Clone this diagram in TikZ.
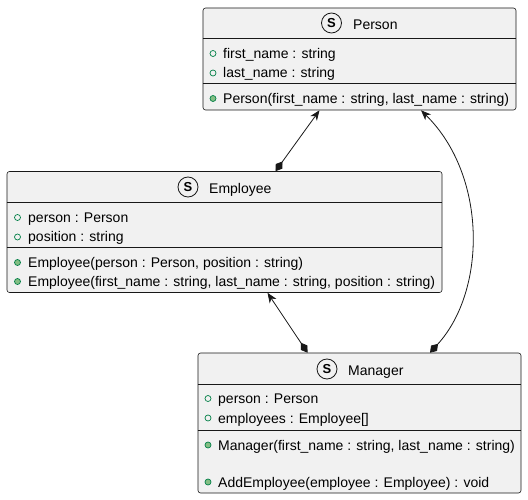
\documentclass[tikz,border=0pt]{standalone}
\usepackage{fontspec}
\setmainfont{Liberation Sans}
\usetikzlibrary{arrows.meta}
\definecolor{boxfill}{HTML}{F1F1F1}
\definecolor{boxline}{HTML}{181818}
\definecolor{visgreen}{HTML}{038048}
\definecolor{methgreen}{HTML}{84BE84}
\newcommand{\umlarrowtip}{Stealth[length=10pt,width=8pt,inset=3pt]}
\newcommand{\umlcomposetip}{Diamond[length=12pt,width=8pt]}
\tikzstyle{umlbox}=[draw=boxline,fill=boxfill,rounded corners=2.5pt,line width=0.6pt,inner sep=0pt]
\tikzstyle{sepline}=[draw=boxline,line width=0.6pt]
\tikzstyle{member}=[anchor=base west,inner sep=0pt,font=\fontsize{14pt}{16pt}\selectfont]
\tikzstyle{title}=[member]
\tikzstyle{spot}=[circle,draw=boxline,line width=0.8pt,minimum size=20pt,inner sep=0pt,font=\fontsize{13pt}{15pt}\selectfont\bfseries]
\tikzstyle{attr}=[circle,draw=visgreen,fill=boxfill,line width=0.7pt,minimum size=6pt,inner sep=0pt]
\tikzstyle{meth}=[circle,draw=visgreen,fill=methgreen,line width=0.7pt,minimum size=6pt,inner sep=0pt]
\tikzstyle{compose}=[\umlcomposetip-\umlarrowtip,draw=boxline,line width=0.8pt]

\begin{document}
\begin{tikzpicture}[x=1pt,y=-1pt]

  % Page size
  \useasboundingbox (0,0) rectangle (528,500);

  % Person
  \node[umlbox,minimum width=313pt,minimum height=102pt] (person) at (359.5,59) {};
  \draw[sepline] ([yshift=-31pt]person.north west) -- ([yshift=-31pt]person.north east);
  \draw[sepline] ([yshift=-76pt]person.north west) -- ([yshift=-76pt]person.north east);
  \node[spot] (personS) at (331.5,23) {S};
  \node[title] (personT) at (353,29.5) {Person};
  \node[attr] (personA1) at (213,53.5) {};
  \node[member] (personM1) at (223,58.5) {first\_name : string};
  \node[attr] (personA2) at (213,73) {};
  \node[member] (personM2) at (223,78) {last\_name : string};
  \node[meth] (personO1) at (213,98.5) {};
  \node[member] (personM3) at (223,103.5) {Person(first\_name : string, last\_name : string)};

  % Employee
  \node[umlbox,minimum width=435pt,minimum height=121pt] (emp) at (224.5,232) {};
  \draw[sepline] ([yshift=-31pt]emp.north west) -- ([yshift=-31pt]emp.north east);
  \draw[sepline] ([yshift=-76pt]emp.north west) -- ([yshift=-76pt]emp.north east);
  \node[spot] (empS) at (188,187) {S};
  \node[title] (empT) at (209,193.5) {Employee};
  \node[attr] (empA1) at (17.5,217.5) {};
  \node[member] (empM1) at (28,222.5) {person : Person};
  \node[attr] (empA2) at (17.5,237) {};
  \node[member] (empM2) at (28,242) {position : string};
  \node[meth] (empO1) at (17.5,262.5) {};
  \node[member] (empM3) at (28,267.5) {Employee(person : Person, position : string)};
  \node[meth] (empO2) at (17.5,281.5) {};
  \node[member] (empM4) at (28,286.5) {Employee(first\_name : string, last\_name : string, position : string)};

  % Manager
  \node[umlbox,minimum width=323pt,minimum height=140pt] (mgr) at (359.5,423) {};
  \draw[sepline] ([yshift=-32pt]mgr.north west) -- ([yshift=-32pt]mgr.north east);
  \draw[sepline] ([yshift=-78pt]mgr.north west) -- ([yshift=-78pt]mgr.north east);
  \node[spot] (mgrS) at (327,369) {S};
  \node[title] (mgrT) at (348,375.5) {Manager};
  \node[attr] (mgrA1) at (208,398.5) {};
  \node[member] (mgrM1) at (218,403.5) {person : Person};
  \node[attr] (mgrA2) at (208,418) {};
  \node[member] (mgrM2) at (218,423) {employees : Employee[]};
  \node[meth] (mgrO1) at (208,445) {};
  \node[member] (mgrM3) at (218,450) {Manager(first\_name : string, last\_name : string)};
  \node[meth] (mgrO2) at (208,482) {};
  \node[member] (mgrM4) at (218,487) {AddEmployee(employee : Employee) : void};

  % Compositions
  \draw[compose] ([xshift=51pt]emp.north) -- ([xshift=-40pt]person.south);
  \draw[compose] ([xshift=-52pt]mgr.north) -- ([xshift=43pt]emp.south);
  \draw[compose] ([xshift=70.5pt]mgr.north) .. controls (487,290) and (487,175) .. ([xshift=61.5pt]person.south);

\end{tikzpicture}
\end{document}
